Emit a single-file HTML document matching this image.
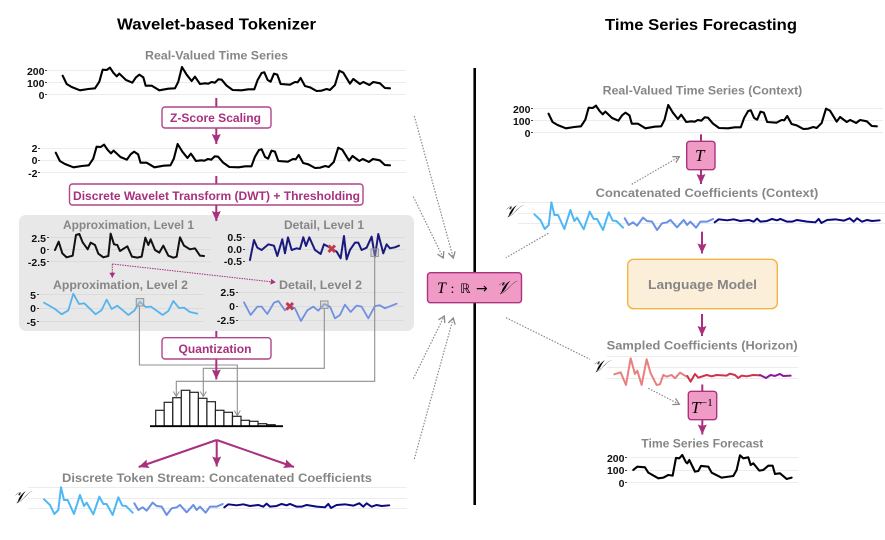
<!DOCTYPE html>
<html><head><meta charset="utf-8"><style>
html,body{margin:0;padding:0;background:#fff}
svg{display:block}
text{font-family:"Liberation Sans",sans-serif}
.t{font-weight:bold;fill:#000;font-size:15.5px}
.g{font-weight:bold;fill:#868686;font-size:12px}
.y{font-weight:bold;fill:#111;font-size:10.5px;text-anchor:end}
.b{font-weight:bold;fill:#a8307e;font-size:11.5px}
.grid{stroke:#ececec;stroke-width:1}
.tk{stroke:#444;stroke-width:1;fill:none}
.s{fill:none;stroke-linejoin:round;stroke-linecap:round;vector-effect:non-scaling-stroke}
.box{fill:#fff;stroke:#b0458a;stroke-width:1.4}
.arr{stroke:#a8307e;stroke-width:2;fill:none;marker-end:url(#pa)}
.seg{stroke:#a8307e;stroke-width:2;fill:none}
.gla{stroke:#8f8f8f;stroke-width:1.1;fill:none;marker-end:url(#ga)}
.dot{stroke:#8a8a8a;stroke-width:1.2;stroke-dasharray:1.5 1.5;fill:none}
.dota{stroke:#8a8a8a;stroke-width:1.2;stroke-dasharray:1.5 1.5;fill:none;marker-end:url(#gd)}
.sq{fill:rgba(200,200,200,.35);stroke:#999;stroke-width:1.1}
.x{stroke:#c0394e;stroke-width:3;fill:none}
.pk{fill:#f09ac6;stroke:#aa3380;stroke-width:1.4}
.m{font-family:"Liberation Serif",serif;font-style:italic;fill:#000}
.bar{fill:#fff;stroke:#222;stroke-width:1.2}
</style></head><body>
<svg width="885" height="540" viewBox="0 0 885 540" xmlns="http://www.w3.org/2000/svg">
<defs>
<marker id="pa" markerUnits="userSpaceOnUse" markerWidth="12" markerHeight="12" refX="10" refY="5" orient="auto"><path d="M0,0.5 L10,5 L0,9.5 L1.5,5 Z" fill="#a8307e"/></marker>
<marker id="ga" markerUnits="userSpaceOnUse" markerWidth="8" markerHeight="8" refX="6" refY="4" orient="auto"><path d="M1,1 L6,4 L1,7" fill="none" stroke="#8f8f8f" stroke-width="1"/></marker>
<marker id="gd" markerUnits="userSpaceOnUse" markerWidth="9" markerHeight="10" refX="7" refY="5" orient="auto"><path d="M1,1.5 L7,5 L1,8.5" fill="none" stroke="#8a8a8a" stroke-width="1.3"/></marker>
<marker id="pd" markerUnits="userSpaceOnUse" markerWidth="6" markerHeight="6" refX="5" refY="3" orient="auto"><path d="M0,0 L5,3 L0,6 Z" fill="#a8307e"/></marker>
<polyline id="orig" class="s" points="188,137 200,162 215,171 240,181 265,177 285,175 298,155 308,119 320,120 330,113 340,128 350,139 358,131 378,150 397,158 408,142 418,134 430,142 437,167 455,167 478,181 505,176 525,175 535,155 546,111 560,134 575,153 585,140 600,162 615,160 625,161 635,156 645,158 655,148 665,149 680,167 698,180 725,181 745,178 763,178 773,150 785,129 793,127 803,150 812,155 822,131 832,134 842,162 870,164 885,156 893,157 902,144 915,168 930,172 950,183 965,182 980,177 990,180 1005,165 1018,122 1030,128 1050,161 1060,147 1080,162 1090,156 1108,165 1120,156 1140,160 1155,174 1170,175"/>
<g id="coef" fill="none">
<polyline class="s" stroke="#4db8f5" stroke-width="2" points="132,508 150,525 163,552 175,540 183,472 192,510 203,510 222,552 240,495 252,528 260,518 280,553 298,500 310,522 320,522 338,555 355,502 367,527 378,528 398,548"/>
<polyline class="s" stroke="#6a90e5" stroke-width="2" points="403,520 415,540 428,532 440,542 458,518 470,528 485,530 500,555 515,535 530,532 540,525 560,547 580,525 590,540 600,530 617,548 630,530 650,530 668,522"/>
<polyline class="s" stroke="#0a0a80" stroke-width="2" points="673,532 685,523 710,526 730,523 750,528 775,525 790,530 800,521 810,530 830,528 845,522 860,526 870,522 890,530 905,530 920,525 950,530 975,532 985,522 993,534 1010,525 1035,523 1060,527 1078,520 1090,530 1100,520 1115,530 1130,525 1145,528 1168,526"/>
</g>
</defs>
<rect width="885" height="540" fill="#fff"/>

<text class="t" x="117" y="29.3" textLength="199" lengthAdjust="spacingAndGlyphs">Wavelet-based Tokenizer</text>
<text class="t" x="605" y="30" textLength="192" lengthAdjust="spacingAndGlyphs">Time Series Forecasting</text>

<!-- left top chart -->
<text class="g" x="145" y="59.5" textLength="143" lengthAdjust="spacingAndGlyphs">Real-Valued Time Series</text>
<g class="grid"><path d="M47,70.5H406M47,82.5H406M47,94.5H406"/></g>
<path class="tk" d="M45,70.5h2M45,82.5h2M45,94.5h2"/>
<text class="y" x="44.5" y="75">200</text><text class="y" x="44.5" y="87">100</text><text class="y" x="44.5" y="99">0</text>
<use href="#orig" transform="translate(0,30) scale(.3333)" stroke="#000" stroke-width="2.1"/>

<path class="arr" d="M216.3,98 V144"/>
<rect class="box" x="162" y="107" width="109" height="21" rx="3"/>
<text class="b" x="170" y="122" textLength="91" lengthAdjust="spacingAndGlyphs">Z-Score Scaling</text>

<!-- z-score chart -->
<g class="grid"><path d="M40,148.5H406M40,160.5H406M40,172.5H406"/></g>
<path class="tk" d="M38,148.5h2M38,160.5h2M38,172.5h2"/>
<text class="y" x="37.5" y="152">2</text><text class="y" x="37.5" y="164">0</text><text class="y" x="37.5" y="177">-2</text>
<use href="#orig" transform="translate(-8.2,107) scale(.3403,.3333)" stroke="#000" stroke-width="2.1"/>

<path class="seg" d="M216.3,176 V184"/>
<rect class="box" x="69.5" y="184" width="293.5" height="21" rx="3"/>
<text class="b" x="73" y="200" textLength="287" lengthAdjust="spacingAndGlyphs">Discrete Wavelet Transform (DWT) + Thresholding</text>

<!-- grey panel -->
<rect x="19" y="215" width="395" height="116" rx="7" fill="#e8e8e8"/>
<path class="arr" d="M216.3,205 V221"/>
<text class="g" x="63" y="229" textLength="131" lengthAdjust="spacingAndGlyphs">Approximation, Level 1</text>
<text class="g" x="284" y="229" textLength="80" lengthAdjust="spacingAndGlyphs">Detail, Level 1</text>
<text class="g" x="53" y="289" textLength="135" lengthAdjust="spacingAndGlyphs">Approximation, Level 2</text>
<text class="g" x="279" y="289" textLength="83" lengthAdjust="spacingAndGlyphs">Detail, Level 2</text>
<path d="M49,237.5H211M49,249.5H211M49,261.5H211M245,237.5H405M245,249.5H405M245,261.5H405M39,294.5H204M39,308.5H204M39,321.5H204M238,292.5H404M238,306.5H404M238,320.5H404" stroke="#dcdcdc" stroke-width="1" fill="none"/>
<path class="tk" d="M47,237.5h2M47,249.5h2M47,261.5h2M243,237.5h2M243,249.5h2M243,261.5h2M37,294.5h2M37,308.5h2M37,321.5h2M236,292.5h2M236,306.5h2M236,320.5h2"/>
<text class="y" x="46" y="242">2.5</text><text class="y" x="46" y="254">0</text><text class="y" x="46" y="266">-2.5</text>
<text class="y" x="242" y="241">0.5</text><text class="y" x="242" y="253">0.0</text><text class="y" x="242" y="265">-0.5</text>
<text class="y" x="36" y="299">5</text><text class="y" x="36" y="312">0</text><text class="y" x="36" y="326">-5</text>
<text class="y" x="235" y="296">2.5</text><text class="y" x="235" y="310">0</text><text class="y" x="235" y="324">-2.5</text>

<g transform="translate(0,205) scale(.3333)">
<polyline class="s" stroke="#111" stroke-width="2" points="165,135 176,110 187,145 200,157 218,152 228,90 238,87 248,112 263,133 272,113 285,120 295,146 310,157 325,153 332,86 342,118 352,120 360,138 382,124 396,155 412,158 425,155 436,98 445,120 452,103 465,135 478,143 490,122 505,152 520,158 530,155 540,97 552,122 570,133 585,130 600,152 612,153"/>
<polyline class="s" stroke="#1a1a7e" stroke-width="2" points="750,165 762,105 772,128 785,135 805,118 822,122 832,153 847,103 855,145 864,97 875,135 890,130 900,132 910,97 918,123 928,97 945,135 962,147 972,118 985,125 1000,135 1010,140 1022,160 1032,93 1040,163 1050,135 1065,113 1075,113 1085,135 1100,128 1115,95 1125,155 1135,87 1150,145 1160,118 1170,130 1185,127 1197,122"/>
<polyline class="s" stroke="#55b4ee" stroke-width="1.8" points="132,293 165,312 185,328 205,316 220,266 237,297 253,295 287,328 305,315 320,284 335,312 352,302 385,330 403,317 420,290 437,306 453,305 488,330 505,318 520,288 537,309 552,308 570,321 592,326"/>
<polyline class="s" stroke="#7090e0" stroke-width="1.8" points="732,292 752,330 772,305 785,305 802,327 822,293 835,288 855,316 870,303 885,310 903,348 922,316 940,305 955,317 973,297 990,305 1005,340 1020,330 1035,299 1052,321 1070,302 1085,305 1105,340 1125,303 1140,301 1155,310 1190,296"/>
</g>
<path class="x" d="M328.5,245.5 L335,252 M335,245.5 L328.5,252"/>
<path class="x" d="M286.5,303 L293,309.5 M293,303 L286.5,309.5"/>
<path d="M112.3,264 V277.7" stroke="#a8307e" stroke-width="1" stroke-dasharray="1.5 1" fill="none" marker-end="url(#pd)"/>
<path d="M112.3,264 L275.7,282.3" stroke="#a8307e" stroke-width="1" stroke-dasharray="1.5 1" fill="none" marker-end="url(#pd)"/>

<!-- grey routing -->
<path class="gla" d="M374.7,256 V381.3 H176.3 V396.5"/>
<path class="gla" d="M324.3,308 V368.3 H203.3 V396.5"/>
<path class="gla" d="M139.4,306 V365 H237.3 V415.5"/>
<rect class="sq" x="371" y="249" width="7.4" height="7.4"/>
<rect class="sq" x="320.6" y="301" width="7.4" height="7.4"/>
<rect class="sq" x="136.3" y="298.6" width="7.4" height="7.4"/>

<path class="seg" d="M216.3,331 V338"/>
<path class="arr" d="M216.3,359 V379.5"/>
<rect class="box" x="162" y="337.7" width="109" height="21.3" rx="3"/>
<text class="b" x="178.5" y="353" textLength="73" lengthAdjust="spacingAndGlyphs">Quantization</text>

<!-- histogram -->
<rect class="bar" x="155.7" y="410.3" width="8.53" height="15.7"/>
<rect class="bar" x="164.2" y="402.3" width="8.53" height="23.7"/>
<rect class="bar" x="172.8" y="397.7" width="8.53" height="28.3"/>
<rect class="bar" x="181.3" y="390.3" width="8.53" height="35.7"/>
<rect class="bar" x="189.8" y="392.3" width="8.53" height="33.7"/>
<rect class="bar" x="198.4" y="398.3" width="8.53" height="27.7"/>
<rect class="bar" x="206.9" y="401.7" width="8.53" height="24.3"/>
<rect class="bar" x="215.4" y="410.3" width="8.53" height="15.7"/>
<rect class="bar" x="223.9" y="412.3" width="8.53" height="13.7"/>
<rect class="bar" x="232.5" y="416.3" width="8.53" height="9.7"/>
<rect class="bar" x="241" y="420.3" width="8.53" height="5.7"/>
<rect class="bar" x="249.5" y="421.3" width="8.53" height="4.7"/>
<rect class="bar" x="258.1" y="423.7" width="8.53" height="2.3"/>
<rect class="bar" x="266.6" y="424.7" width="8.53" height="1.3"/>
<path d="M150,426.2H283" stroke="#000" stroke-width="1.8"/>

<path class="arr" d="M216.7,440 L138.7,467"/>
<path class="arr" d="M216.7,440 V466.5"/>
<path class="arr" d="M216.7,440 L294,467"/>

<text class="g" x="62" y="482" textLength="310" lengthAdjust="spacingAndGlyphs">Discrete Token Stream: Concatenated Coefficients</text>
<g class="grid"><path d="M28,487.5H406.7M28,498.5H406.7M28,508.5H406.7"/></g>
<text class="m" x="13" y="503" font-size="17">𝒱</text>
<use href="#coef" transform="translate(0,330) scale(.3333)"/>

<!-- divider -->
<path d="M474.7,68 V505" stroke="#000" stroke-width="2.6"/>

<!-- dotted arrows -->
<path class="dota" d="M414.3,116 L453.3,258"/>
<path class="dota" d="M413.3,196.7 L443.3,258"/>
<path class="dot" d="M548.3,233.3 L506,257.7"/>
<path class="dot" d="M506,317.7 L590,359.3"/>
<path class="dota" d="M413.3,378.7 L444.3,316"/>
<path class="dota" d="M414.3,459 L453.3,318"/>
<path class="dota" d="M631.7,184.3 L679.3,156.7"/>
<path class="dota" d="M648.3,388.3 L679.3,404.3"/>

<!-- T box -->
<rect class="pk" x="427.5" y="272.7" width="94" height="30" rx="3"/>
<text class="m" x="437" y="293" font-size="16">T</text>
<text x="450.5" y="293" font-size="14" style="font-family:'Liberation Serif',serif">:</text>
<text x="460" y="293" font-size="13" style="font-family:'DejaVu Sans',sans-serif">ℝ</text>
<text x="476" y="293" font-size="14" style="font-family:'DejaVu Sans',sans-serif">→</text>
<text class="m" x="496" y="294" font-size="19">𝒱</text>

<!-- right chart 1 -->
<text class="g" x="602.7" y="94.3" textLength="199.6" lengthAdjust="spacingAndGlyphs">Real-Valued Time Series (Context)</text>
<g class="grid"><path d="M533,108.5H883M533,120.5H883M533,132.5H883"/></g>
<path class="tk" d="M531,108.5h2M531,120.5h2M531,132.5h2"/>
<text class="y" x="530.5" y="113">200</text><text class="y" x="530.5" y="125">100</text><text class="y" x="530.5" y="137">0</text>
<use href="#orig" transform="translate(485.7,68) scale(.3343,.3333)" stroke="#000" stroke-width="2.1"/>

<path class="seg" d="M701,134.3 V141.5"/>
<path class="arr" d="M701,169.7 V184"/>
<rect class="pk" x="686.7" y="141.3" width="28.3" height="28.4" rx="3"/>
<text class="m" x="695" y="161" font-size="17">T</text>

<text class="g" x="595.7" y="197" textLength="222.6" lengthAdjust="spacingAndGlyphs">Concatenated Coefficients (Context)</text>
<g class="grid"><path d="M518,202.5H885M518,213.5H885M518,223.5H885"/></g>
<text class="m" x="504" y="217" font-size="17">𝒱</text>
<use href="#coef" transform="translate(490.4,45) scale(.3333)"/>

<path class="arr" d="M702,231.7 V253.5"/>
<rect x="627.7" y="259.3" width="149.6" height="49.4" rx="6" fill="#fcefd9" stroke="#f5b342" stroke-width="1.4"/>
<text class="g" x="648" y="289" style="font-size:13px" textLength="109" lengthAdjust="spacingAndGlyphs">Language Model</text>
<path class="arr" d="M702,314 V336"/>

<text class="g" x="606.7" y="349.3" textLength="191" lengthAdjust="spacingAndGlyphs">Sampled Coefficients (Horizon)</text>
<g class="grid"><path d="M606.7,356.5H798.3M606.7,367.5H798.3M606.7,378.5H798.3"/></g>
<text class="m" x="592" y="372" font-size="17">𝒱</text>
<g transform="translate(400,250) scale(.3333)" fill="none">
<polyline class="s" stroke="#e88080" stroke-width="2" points="643,373 662,367 678,405 692,325 705,372 712,362 725,405 740,328 752,370 770,405 780,403 790,375 800,380 815,375 825,385 840,368 860,380"/>
<polyline class="s" stroke="#d0304a" stroke-width="2" points="862,378 872,395 885,372 895,383 920,375 935,379 950,375 980,377 990,371 1005,375 1015,384 1025,377 1040,379 1060,375 1080,376"/>
<polyline class="s" stroke="#8a1a98" stroke-width="2" points="1080,375 1098,384 1112,375 1125,378 1140,372 1150,378 1172,377"/>
</g>

<path class="seg" d="M702.3,384.5 V391.5"/>
<path class="arr" d="M702.3,419.7 V434.5"/>
<rect class="pk" x="688.3" y="391.3" width="28.4" height="28.4" rx="3"/>
<text class="m" x="691" y="413" font-size="17">T</text>
<text x="701" y="406" font-size="11" style="font-family:'Liberation Serif',serif">−1</text>

<text class="g" x="641.3" y="447.7" textLength="122" lengthAdjust="spacingAndGlyphs">Time Series Forecast</text>
<g class="grid"><path d="M626.7,457.5H798.3M626.7,470.5H798.3M626.7,482.5H798.3"/></g>
<path class="tk" d="M625,457.5h2M625,470.5h2M625,482.5h2"/>
<text class="y" x="624.5" y="462">200</text><text class="y" x="624.5" y="474">100</text><text class="y" x="624.5" y="487">0</text>
<g transform="translate(400,250) scale(.3333)"><polyline class="s" stroke="#000" stroke-width="2.1" points="700,660 712,650 735,652 745,668 775,685 790,683 805,675 818,677 828,624 838,625 847,615 858,637 862,640 868,630 885,665 895,663 903,648 925,650 935,668 965,683 1000,678 1010,660 1020,616 1030,625 1045,622 1052,645 1060,640 1078,662 1090,660 1105,647 1118,647 1125,672 1140,670 1160,687 1175,683"/></g>
</svg>
</body></html>
